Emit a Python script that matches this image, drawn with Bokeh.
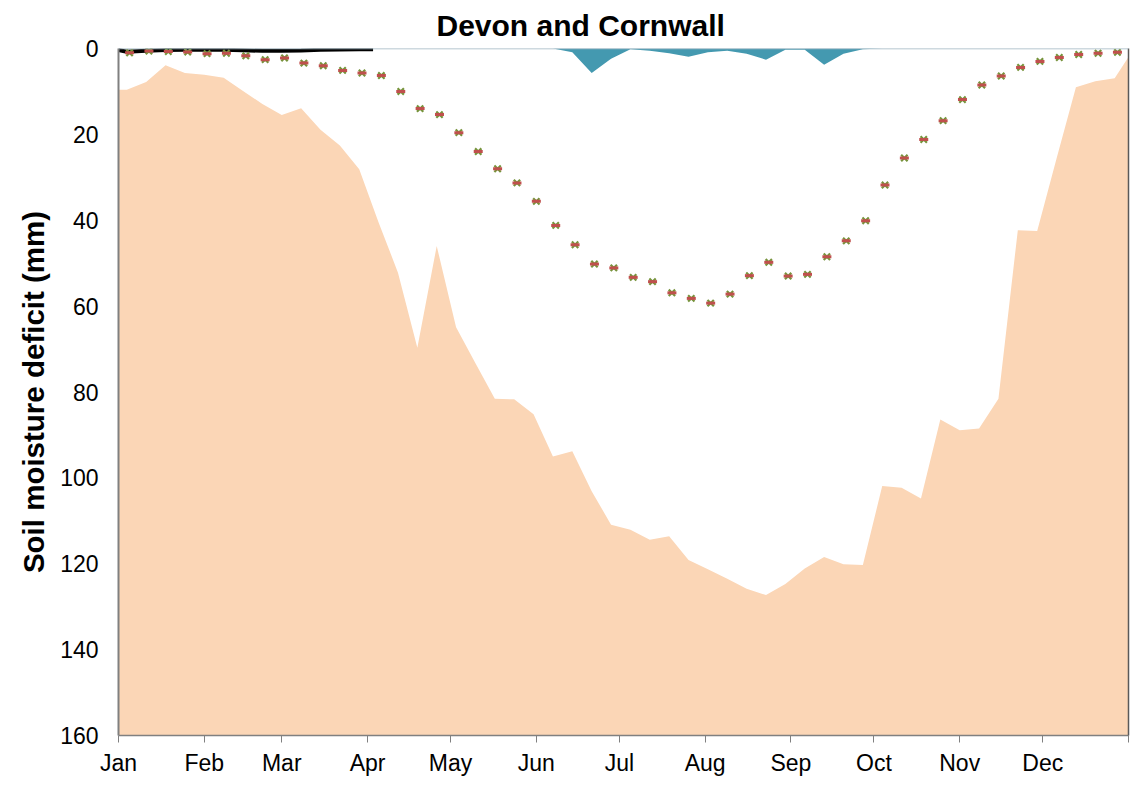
from bokeh.plotting import figure
from bokeh.models import Range1d, FixedTicker, LinearAxis, Span, Title
from bokeh.embed import file_html
from bokeh.resources import INLINE

# Month starts (day of year) and their labels
month_days = [0, 31, 59, 90, 120, 151, 181, 212, 243, 273, 304, 334, 365]
month_labels = ["Jan", "Feb", "Mar", "Apr", "May", "Jun", "Jul", "Aug",
                "Sep", "Oct", "Nov", "Dec", ""]

# Weekly series (52 weeks)
weeks = list(range(52))
area_days = [3 + 7 * w for w in weeks]
avg_days = [4 + 7 * w for w in weeks]

# Largest deficit on record (mm)
max_deficit = [9.6, 7.8, 3.9, 5.7, 6.1, 6.8, 9.9, 12.9, 15.5, 13.9,
               18.9, 22.6, 28.1, 40.5, 52.2, 69.7, 46.0, 64.9, 73.3, 81.6,
               81.7, 85.2, 95.0, 93.8, 103.1, 110.9, 112.1, 114.4, 113.6, 119.1,
               121.3, 123.5, 125.8, 127.3, 124.7, 121.1, 118.4, 120.1, 120.3, 101.9,
               102.3, 104.8, 86.4, 88.9, 88.5, 81.6, 42.3, 42.5, 25.6, 9.0,
               7.6, 6.9]
max_start = 9.6
max_end = 2.0

# Smallest deficit on record (mm)
min_deficit = [0, 0, 0, 0, 0, 0, 0, 0, 0, 0,
               0, 0, 0, 0, 0, 0, 0, 0, 0, 0,
               0, 0, 0, 0.85, 5.7, 2.4, 0.2, 0.5, 1.1, 1.9,
               0.85, 0.5, 1.2, 2.6, 0.3, 0.3, 3.8, 1.2, 0.15, 0,
               0, 0, 0, 0, 0, 0, 0, 0, 0, 0,
               0, 0]

# Long-term average deficit (mm)
avg_deficit = [1.0, 0.6, 0.7, 0.8, 1.2, 1.1, 1.7, 2.6, 2.2, 3.4,
               4.0, 5.1, 5.7, 6.3, 10.0, 14.0, 15.4, 19.6, 24.0, 28.0,
               31.3, 35.6, 41.2, 45.7, 50.2, 51.1, 53.3, 54.3, 56.9, 58.2,
               59.3, 57.2, 52.9, 49.8, 53.0, 52.6, 48.5, 44.8, 40.1, 31.8,
               25.5, 21.2, 16.8, 11.9, 8.5, 6.4, 4.4, 3.0, 2.1, 1.4,
               1.1, 0.9]

# Current year so far (mm)
current_days = [0, 3, 10, 17, 24, 31, 38, 45, 52, 59, 66, 73, 80, 87, 92]
current_deficit = [0.35, 0.75, 0.5, 0.35, 0.3, 0.3, 0.3, 0.4, 0.55, 0.55,
                   0.45, 0.3, 0.25, 0.2, 0.2]

FONT = "Liberation Sans"
GREY = "#808080"

p = figure(width=1130, height=787, output_backend="svg", toolbar_location=None,
           x_range=Range1d(0, 365), y_range=Range1d(160, 0),
           min_border_left=118, min_border_right=2,
           min_border_top=48, min_border_bottom=52)
p.background_fill_color = "white"
p.border_fill_color = "white"
p.outline_line_color = None
p.xgrid.visible = False
p.ygrid.visible = False

# Record-maximum deficit: shaded from curve down to the axis floor
max_x = [0] + area_days + [365]
max_y = [max_start] + max_deficit + [max_end]
p.varea(x=max_x, y1=max_y, y2=[160] * len(max_x), fill_color="#FBD6B6")

# Record-minimum deficit: shaded from zero
min_x = [0] + area_days + [365]
min_y = [0] + min_deficit + [0]
p.varea(x=min_x, y1=[0] * len(min_x), y2=min_y, fill_color="#4499B0")

zero_line = Span(location=0, dimension="width", line_color="#9DB4C0", line_width=1.5)
p.add_layout(zero_line)

# Current year
p.line(current_days, current_deficit, line_color="black", line_width=4)

# Long-term average markers
p.scatter(avg_days, avg_deficit, marker="x", size=9, line_color="#77933C", line_width=2.2)
p.scatter(avg_days, avg_deficit, marker="dash", size=9, line_color="#C0504D", line_width=3)

# Axes
p.xaxis.ticker = FixedTicker(ticks=month_days)
p.xaxis.major_label_overrides = {d: l for d, l in zip(month_days, month_labels)}
p.xaxis.minor_tick_line_color = None
p.xaxis.major_tick_in = 0
p.xaxis.major_tick_out = 7
p.xaxis.major_tick_line_color = GREY
p.xaxis.axis_line_color = GREY
p.xaxis.axis_line_width = 1.5
p.xaxis.major_label_text_font = FONT
p.xaxis.major_label_text_font_size = "23px"
p.xaxis.major_label_text_color = "black"
p.xaxis.major_label_standoff = 7

p.yaxis.ticker = FixedTicker(ticks=list(range(0, 161, 20)))
p.yaxis.minor_tick_line_color = None
p.yaxis.major_tick_in = 0
p.yaxis.major_tick_out = 0
p.yaxis.axis_line_color = GREY
p.yaxis.axis_line_width = 2
p.yaxis.major_label_text_font = FONT
p.yaxis.major_label_text_font_size = "23px"
p.yaxis.major_label_text_color = "black"
p.yaxis.major_label_standoff = 20
p.yaxis.axis_label = "Soil moisture deficit (mm)"
p.yaxis.axis_label_text_font = FONT
p.yaxis.axis_label_text_font_size = "29.5px"
p.yaxis.axis_label_text_font_style = "bold"
p.yaxis.axis_label_text_color = "black"
p.yaxis.axis_label_standoff = 7

right_axis = LinearAxis(ticker=FixedTicker(ticks=[]), axis_line_color="#595959",
                        axis_line_width=1.5, major_label_text_font_size="0px",
                        major_tick_line_color=None, minor_tick_line_color=None)
p.add_layout(right_axis, "right")

p.title = Title(text="Devon and Cornwall", align="left", offset=318,
                text_font=FONT, text_font_size="30px", text_font_style="bold",
                text_color="black", standoff=13)

open("out.html", "w").write(file_html(p, INLINE))
